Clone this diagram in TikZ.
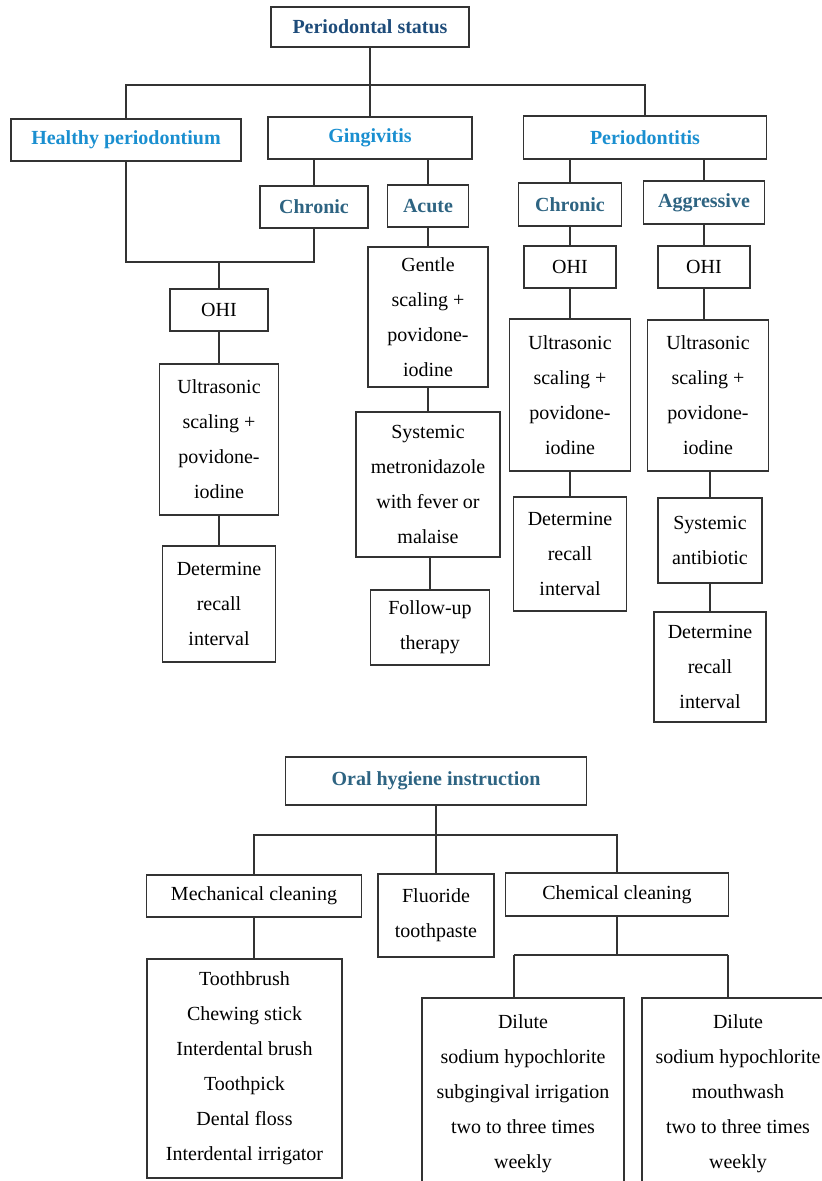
\documentclass[tikz,border=0pt]{standalone}
\usepackage{fontspec}
\setmainfont{Liberation Serif}
\definecolor{titleblue}{RGB}{30,76,122}
\definecolor{headblue}{RGB}{26,143,208}
\definecolor{subteal}{RGB}{46,100,130}
\begin{document}
\begin{tikzpicture}[x=1pt,y=-1pt,
	box/.style={draw=black!80,line width=1.3pt,inner sep=2pt,align=center,font=\fontsize{20}{35}\selectfont},
	title/.style={box,font=\fontsize{20}{35}\selectfont\bfseries,text=titleblue},
	head/.style={box,font=\fontsize{20}{35}\selectfont\bfseries,text=headblue},
	sub/.style={box,font=\fontsize{20}{35}\selectfont\bfseries,text=subteal},
	link/.style={draw=black!80,line width=1.2pt}]
	\useasboundingbox (0,0) rectangle (822,1181);
	\clip (0,0) rectangle (822,1181);
	% periodontal status tree
	\node[title,minimum width=198pt,minimum height=40pt] (status) at (370,27) {Periodontal status};
	\node[head,minimum width=230pt,minimum height=42pt] (healthy) at (126,140) {Healthy periodontium};
	\node[head,minimum width=204pt,minimum height=42pt] (gingi) at (370,138) {Gingivitis};
	\node[head,minimum width=243pt,minimum height=43pt] (perio) at (645,137.5) {Periodontitis};
	\node[sub,minimum width=108pt,minimum height=42pt] (chronA) at (314,207) {Chronic};
	\node[sub,minimum width=81pt,minimum height=42pt] (acute) at (428,206) {Acute};
	\node[sub,minimum width=103pt,minimum height=43pt] (chronB) at (570,204.5) {Chronic};
	\node[sub,minimum width=121pt,minimum height=43pt] (aggr) at (704,202.5) {Aggressive};
	\node[box,minimum width=98pt,minimum height=42pt] (ohiA) at (219,310) {OHI};
	\node[box,minimum width=119pt,minimum height=151pt] (ultraA) at (219,439.5) {Ultrasonic\\scaling +\\povidone-\\iodine};
	\node[box,minimum width=113pt,minimum height=116pt] (recallA) at (219,604) {Determine\\recall\\interval};
	\node[box,minimum width=120pt,minimum height=140pt] (gentle) at (428,317) {Gentle\\scaling +\\povidone-\\iodine};
	\node[box,minimum width=144pt,minimum height=145pt] (metro) at (428,484.5) {Systemic\\metronidazole\\with fever or\\malaise};
	\node[box,minimum width=119pt,minimum height=75pt] (follow) at (430,627.5) {Follow-up\\therapy};
	\node[box,minimum width=92pt,minimum height=42pt] (ohiB) at (570,267) {OHI};
	\node[box,minimum width=121pt,minimum height=152pt] (ultraB) at (570,395) {Ultrasonic\\scaling +\\povidone-\\iodine};
	\node[box,minimum width=113pt,minimum height=114pt] (recallB) at (570,554) {Determine\\recall\\interval};
	\node[box,minimum width=92pt,minimum height=42pt] (ohiC) at (704,267) {OHI};
	\node[box,minimum width=121pt,minimum height=151pt] (ultraC) at (708,395.5) {Ultrasonic\\scaling +\\povidone-\\iodine};
	\node[box,minimum width=104pt,minimum height=85pt] (antib) at (710,540.5) {Systemic\\antibiotic};
	\node[box,minimum width=112pt,minimum height=110pt] (recallC) at (710,667) {Determine\\recall\\interval};
	\coordinate (bus) at (370,85);
	\coordinate (join) at (219,262);
	\draw[link] (status) -- (bus);
	\draw[link] (healthy) |- (bus) -| (perio);
	\draw[link] (bus) -- (gingi);
	\draw[link] (gingi.south -| chronA) -- (chronA);
	\draw[link] (gingi.south -| acute) -- (acute);
	\draw[link] (healthy) |- (join) -| (chronA);
	\draw[link] (join) -- (ohiA);
	\draw[link] (ohiA) -- (ultraA);
	\draw[link] (ultraA) -- (recallA);
	\draw[link] (acute) -- (gentle);
	\draw[link] (gentle) -- (metro);
	\draw[link] (metro.south -| follow) -- (follow);
	\draw[link] (perio.south -| chronB) -- (chronB);
	\draw[link] (perio.south -| aggr) -- (aggr);
	\draw[link] (chronB) -- (ohiB);
	\draw[link] (ohiB) -- (ultraB);
	\draw[link] (ultraB) -- (recallB);
	\draw[link] (aggr) -- (ohiC);
	\draw[link] (ohiC.south) -- (ohiC.south |- ultraC.north);
	\draw[link] (ultraC.south -| antib) -- (antib);
	\draw[link] (antib) -- (recallC);
	% oral hygiene instruction tree
	\node[sub,minimum width=301pt,minimum height=48pt] (ohi) at (436,781) {Oral hygiene instruction};
	\node[box,minimum width=215pt,minimum height=42pt] (mech) at (254,896) {Mechanical cleaning};
	\node[box,minimum width=116pt,minimum height=83pt] (fluor) at (436,915.5) {Fluoride\\toothpaste};
	\node[box,minimum width=223pt,minimum height=43pt] (chem) at (617,894.5) {Chemical cleaning};
	\node[box,minimum width=195pt,minimum height=219pt] (tools) at (244.5,1068.5) {Toothbrush\\Chewing stick\\Interdental brush\\Toothpick\\Dental floss\\Interdental irrigator};
	\node[box,minimum width=202pt,minimum height=192pt] (irrigL) at (523,1094) {Dilute\\sodium hypochlorite\\subgingival irrigation\\two to three times\\weekly};
	\node[box,minimum width=192pt,minimum height=192pt] (irrigR) at (738,1094) {Dilute\\sodium hypochlorite\\mouthwash\\two to three times\\weekly};
	\coordinate (obus) at (436,835);
	\coordinate (dl) at (514,955);
	\coordinate (dr) at (728,955);
	\draw[link] (ohi) -- (obus);
	\draw[link] (mech) |- (obus) -| (chem);
	\draw[link] (obus) -- (fluor);
	\draw[link] (mech.south) -- (mech.south |- tools.north);
	\draw[link] (chem.south) -- (chem.south |- dl);
	\draw[link] (dl) -- (dr);
	\draw[link] (dl) -- (dl |- irrigL.north);
	\draw[link] (dr) -- (dr |- irrigR.north);
\end{tikzpicture}
\end{document}
